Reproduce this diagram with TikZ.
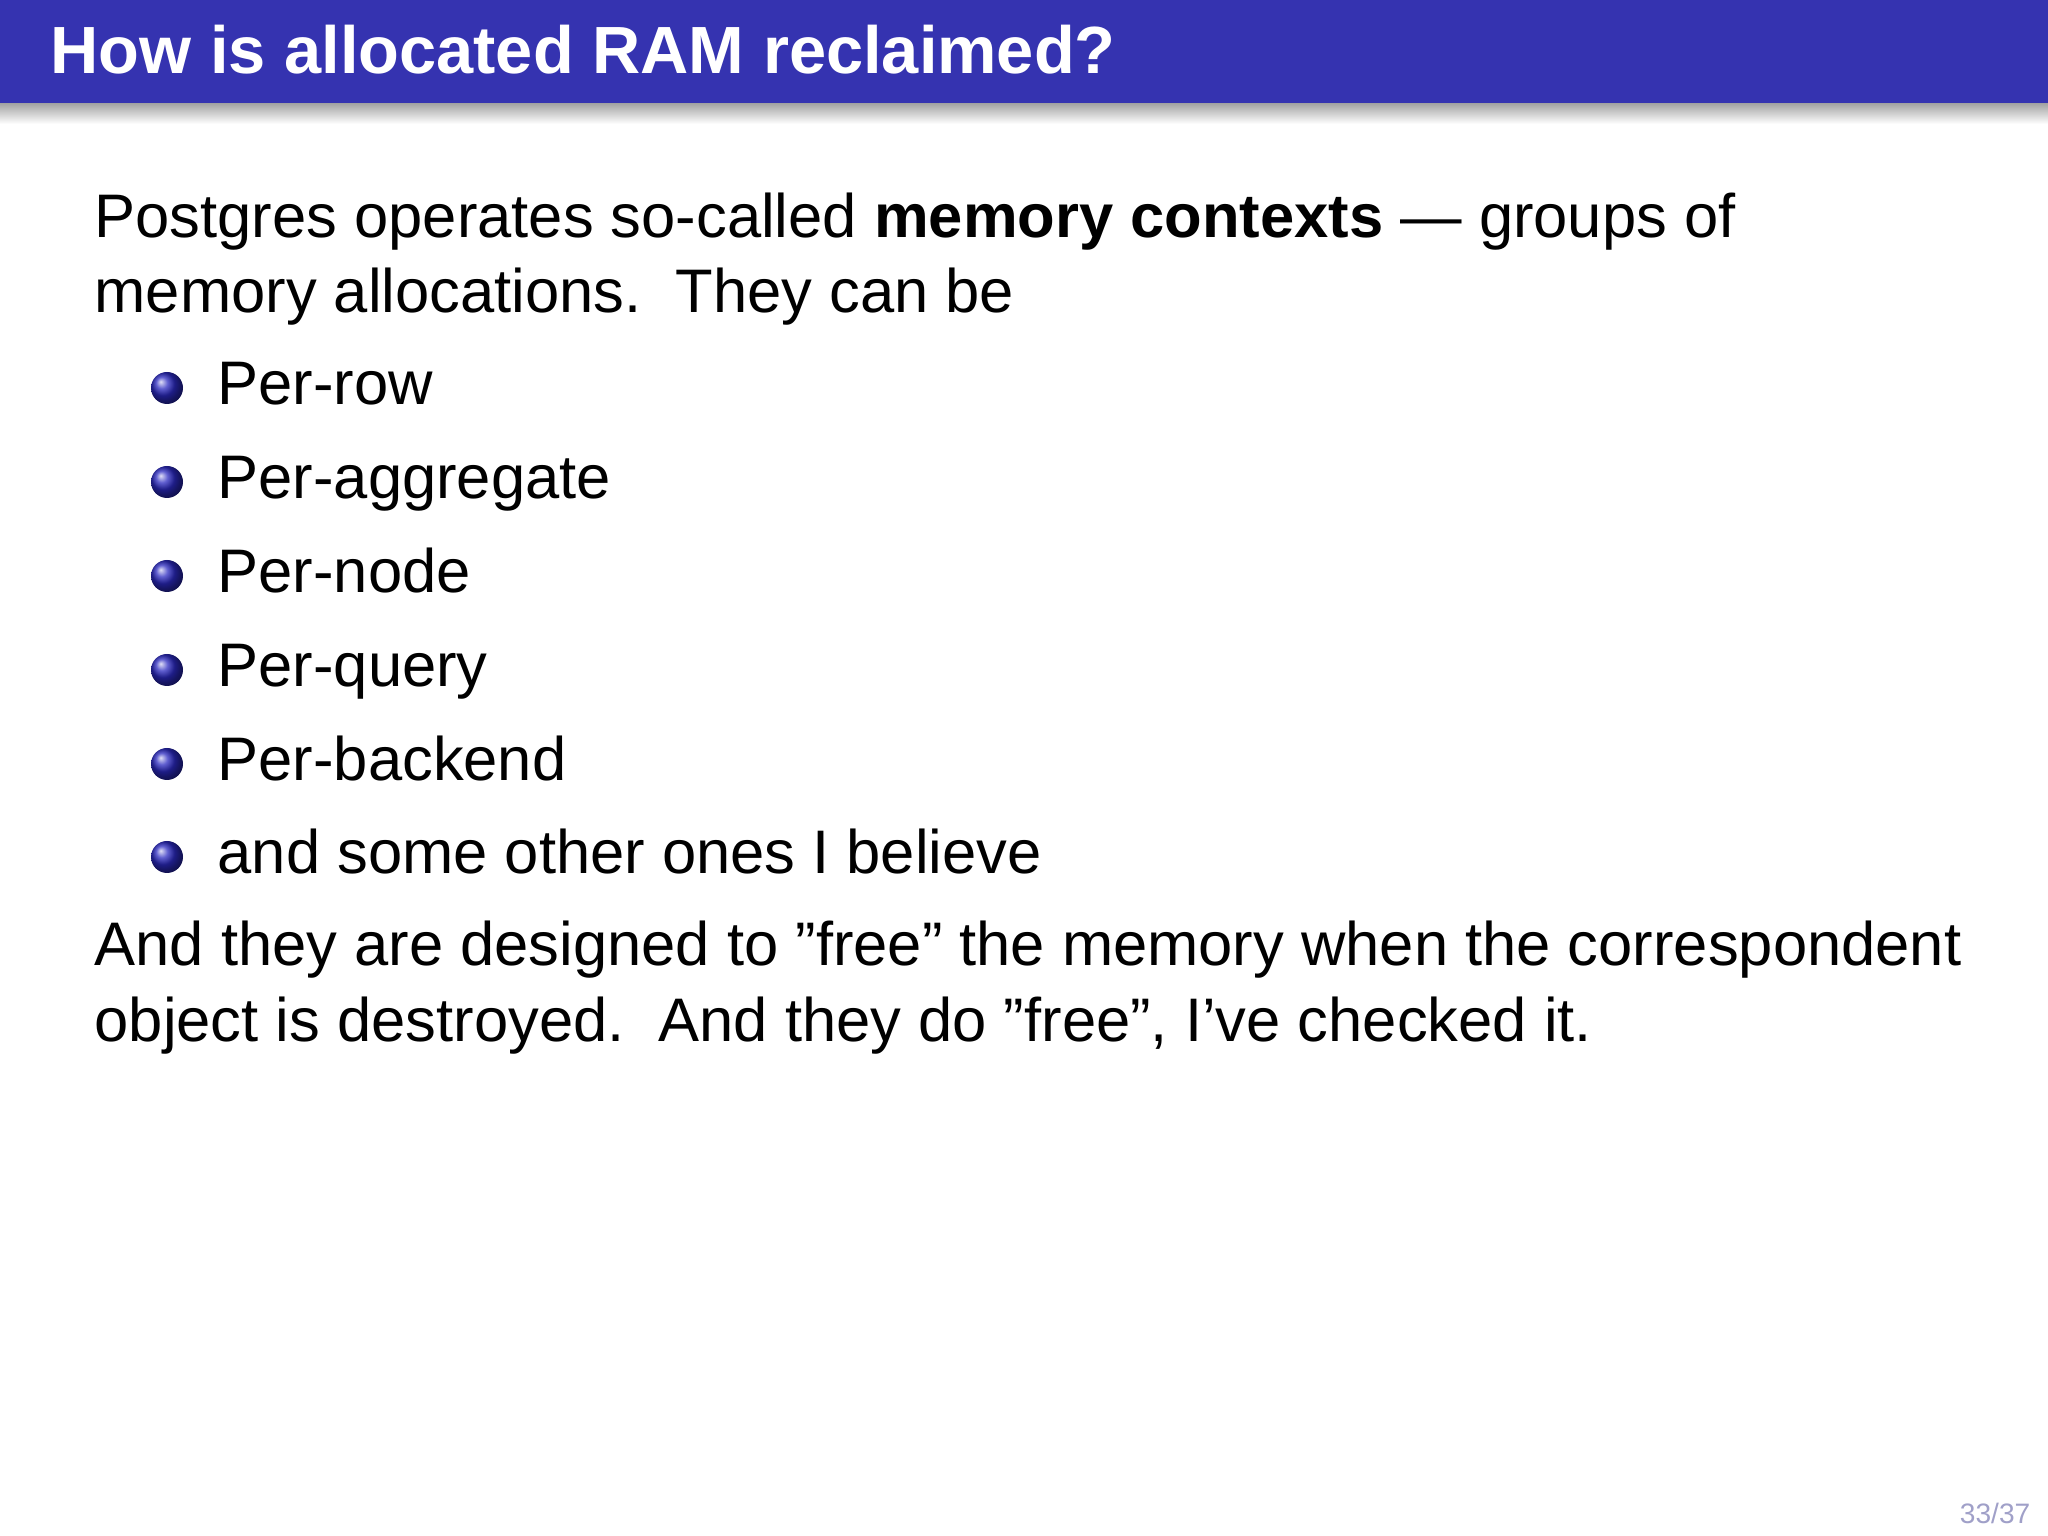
\documentclass[tikz,border=0pt]{standalone}
\usepackage{fontspec}
\setmainfont{Liberation Sans}
\usetikzlibrary{calc}
\definecolor{barblue}{RGB}{53,51,176}
\definecolor{pagegray}{RGB}{160,160,200}
\begin{document}
\begin{tikzpicture}[
  bodytext/.style={anchor=base west,inner sep=0pt,font=\fontsize{17.5}{21}\selectfont},
  ballnode/.style={circle,inner sep=0pt,minimum size=0.32cm,ball color=barblue!80!blue}]

\useasboundingbox (0,0) rectangle (20.48,15.36);

% Title bar
\fill[barblue] (0,14.32) rectangle (20.48,15.36);
\shade[top color=black!35,bottom color=white] (0,14.12) rectangle (20.48,14.32);
\node[anchor=base west,inner sep=0pt,text=white,font=\fontsize{19}{22}\bfseries\selectfont] (title)
  at (0.5,14.62) {How is allocated RAM reclaimed?};

% Intro
\node[bodytext] (introa) at (0.94,12.98) {Postgres operates so-called \textbf{memory contexts} --- groups of};
\node[bodytext] (introb) at (0.94,12.23) {memory allocations.\ \ They can be};

% Items
\def\ix{2.17}
\foreach \txt/\yy [count=\k] in {Per-row/11.31, Per-aggregate/10.37, Per-node/9.43,
    Per-query/8.49, Per-backend/7.55, and some other ones I believe/6.62}{
  \node[bodytext] (item\k) at (\ix,\yy) {\txt};
  \node[ballnode] (ball\k) at (1.67,\yy+0.17) {};
}

% Closing
\node[bodytext] (outa) at (0.94,5.70) {And they are designed to "free" the memory when the correspondent};
\node[bodytext] (outb) at (0.94,4.94) {object is destroyed.\ \ And they do "free", I’ve checked it.};

% Page number
\node[anchor=base east,inner sep=0pt,text=pagegray,font=\fontsize{8}{10}\selectfont] (pagenum)
  at (20.31,0.12) {33/37};

\end{tikzpicture}
\end{document}
